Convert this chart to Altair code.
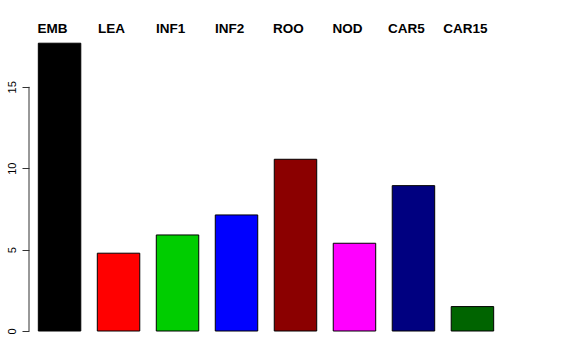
import altair as alt
import pandas as pd

categories = ["EMB", "LEA", "INF1", "INF2", "ROO", "NOD", "CAR5", "CAR15"]
values = [17.68, 4.78, 5.90, 7.13, 10.55, 5.39, 8.93, 1.50]
colors = ["#000000", "#FF0000", "#00CD00", "#0000FF", "#8B0000", "#FF00FF", "#000080", "#006400"]
y_ticks = [0, 5, 10, 15]

df = pd.DataFrame({"cat": categories, "val": values, "col": colors})
axis_df = pd.DataFrame({"y0": [y_ticks[0]], "y1": [y_ticks[-1]]})

FONT = "Liberation Sans"

x_enc = alt.X(
    "cat:N",
    sort=categories,
    scale=alt.Scale(paddingInner=0.28, paddingOuter=0.158),
    axis=alt.Axis(
        orient="top", title=None, domain=False, ticks=False, labelAngle=0,
        labelFont=FONT, labelFontSize=13.5, labelFontWeight="bold",
        labelColor="black", labelOffset=-7, labelPadding=3,
    ),
)
y_scale = alt.Scale(domain=[0, 18], nice=False, zero=True)

bars = alt.Chart(df).mark_bar(stroke="black", strokeWidth=1).encode(
    x=x_enc,
    y=alt.Y(
        "val:Q",
        scale=y_scale,
        axis=alt.Axis(
            title=None, values=y_ticks, domain=False, grid=False,
            tickSize=7, tickColor="#333333", labelAngle=270,
            labelAlign="center", labelBaseline="bottom", labelPadding=5,
            labelFont=FONT, labelFontSize=11, labelColor="black",
        ),
    ),
    color=alt.Color("col:N", scale=None),
)

axis_line = alt.Chart(axis_df).mark_rule(color="#333333", strokeWidth=1).encode(
    x=alt.value(0),
    y=alt.Y("y0:Q", scale=y_scale),
    y2="y1:Q",
)

chart = alt.layer(bars, axis_line).properties(
    width=474,
    height=293,
    autosize=alt.AutoSizeParams(type="none"),
    padding={"left": 29, "top": 38, "right": 0, "bottom": 29},
    background="white",
).configure_view(stroke=None)

chart.save("out.html", embed_options={"renderer": "svg", "actions": False})
